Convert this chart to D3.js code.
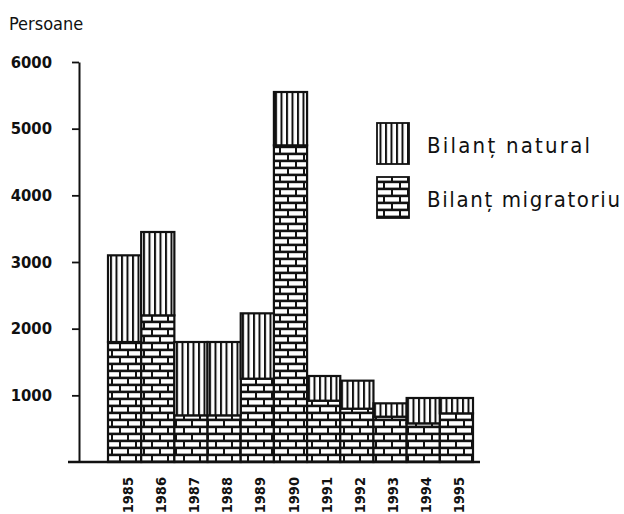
<!DOCTYPE html>
<html>
<head>
<meta charset="utf-8">
<script src="https://cdn.jsdelivr.net/npm/d3@7"></script>
<style>
  body { margin: 0; background: #fff; }
  svg { display: block; }
  text { fill: #111; }
</style>
</head>
<body>
<svg id="chart" width="624" height="514"></svg>
<script>
// values
var years = ["1985", "1986", "1987", "1988", "1989", "1990", "1991", "1992", "1993", "1994", "1995"];
var migratoriu = [1800, 2200, 700, 700, 1250, 4750, 920, 800, 680, 580, 730];
var natural = [1300, 1250, 1100, 1100, 980, 800, 370, 420, 200, 380, 230];
var yTicks = [1000, 2000, 3000, 4000, 5000, 6000];
var seriesNames = ["Bilanț natural", "Bilanț migratoriu"];

var svg = d3.select("#chart");
var ink = "#111";
var font = "'DejaVu Sans Condensed', 'DejaVu Sans', sans-serif";

var x = d3.scaleBand().domain(years).range([108, 473]).padding(0);
var y = d3.scaleLinear().domain([0, 6000]).range([462, 62]);

// patterns
var defs = svg.append("defs");
var vert = defs.append("pattern")
    .attr("id", "vlines")
    .attr("patternUnits", "userSpaceOnUse")
    .attr("width", 5.5).attr("height", 10);
vert.append("rect").attr("width", 5.5).attr("height", 10).attr("fill", "#fff");
vert.append("rect").attr("x", 0).attr("width", 2).attr("height", 10).attr("fill", ink);

var brick = defs.append("pattern")
    .attr("id", "bricks")
    .attr("patternUnits", "userSpaceOnUse")
    .attr("width", 16).attr("height", 14)
    .attr("y", 462);
brick.append("rect").attr("width", 16).attr("height", 14).attr("fill", ink);
brick.append("rect").attr("x", 1).attr("y", 1.2).attr("width", 14).attr("height", 4.4).attr("fill", "#fff");
brick.append("rect").attr("x", 0).attr("y", 8.2).attr("width", 7).attr("height", 4.4).attr("fill", "#fff");
brick.append("rect").attr("x", 9).attr("y", 8.2).attr("width", 7).attr("height", 4.4).attr("fill", "#fff");

var rows = years.map(function(yr, i) {
    return { year: yr, migr: migratoriu[i], nat: natural[i] };
});

// bars: migratory at the bottom, natural stacked above
var g = svg.append("g");
g.selectAll(".migr")
    .data(rows)
    .enter().append("rect")
    .attr("class", "migr")
    .attr("x", function(d) { return x(d.year); })
    .attr("width", x.bandwidth())
    .attr("y", function(d) { return y(d.migr); })
    .attr("height", function(d) { return y(0) - y(d.migr); })
    .attr("fill", "url(#bricks)")
    .attr("stroke", ink).attr("stroke-width", 2.2);

g.selectAll(".nat")
    .data(rows)
    .enter().append("rect")
    .attr("class", "nat")
    .attr("x", function(d) { return x(d.year); })
    .attr("width", x.bandwidth())
    .attr("y", function(d) { return y(d.migr + d.nat); })
    .attr("height", function(d) { return y(d.migr) - y(d.migr + d.nat); })
    .attr("fill", "url(#vlines)")
    .attr("stroke", ink).attr("stroke-width", 2.2);

// y axis
var yAxis = d3.axisLeft(y)
    .tickValues(yTicks)
    .tickFormat(d3.format("d"))
    .tickSize(7)
    .tickSizeOuter(0)
    .tickPadding(20);
var ax = svg.append("g")
    .attr("transform", "translate(79,0)")
    .call(yAxis);
ax.select(".domain").attr("stroke", ink).attr("stroke-width", 2);
ax.selectAll(".tick line").attr("stroke", ink).attr("stroke-width", 1.8);
ax.selectAll(".tick text")
    .attr("font-family", font)
    .attr("font-weight", "bold")
    .attr("font-size", 16.5)
    .attr("fill", ink);

// baseline
svg.append("line")
    .attr("x1", 68).attr("x2", 480)
    .attr("y1", y(0)).attr("y2", y(0))
    .attr("stroke", ink).attr("stroke-width", 2.4);

// x labels, rotated
svg.append("g").selectAll("text")
    .data(years)
    .enter().append("text")
    .attr("transform", function(d) {
        return "translate(" + (x(d) + x.bandwidth() / 2 + 8) + ",477) rotate(-90)";
    })
    .attr("text-anchor", "end")
    .attr("font-family", font)
    .attr("font-weight", "bold")
    .attr("font-size", 14.5)
    .text(function(d) { return d; });

// axis title
svg.append("text")
    .attr("x", 9).attr("y", 30)
    .attr("font-family", font)
    .attr("font-size", 18)
    .text("Persoane");

// legend
var legend = svg.append("g");
var legFills = ["url(#vlines)", "url(#bricks)"];
var legY = [123, 177];
var legW = [163, 193];
seriesNames.forEach(function(name, i) {
    legend.append("rect")
        .attr("x", 377).attr("y", legY[i])
        .attr("width", 32).attr("height", 41)
        .attr("fill", legFills[i])
        .attr("stroke", ink).attr("stroke-width", 1.8);
    legend.append("text")
        .attr("x", 427).attr("y", legY[i] + 30)
        .attr("font-family", font)
        .attr("font-size", 22)
        .attr("textLength", legW[i])
        .attr("lengthAdjust", "spacing")
        .text(name);
});
</script>
</body>
</html>
